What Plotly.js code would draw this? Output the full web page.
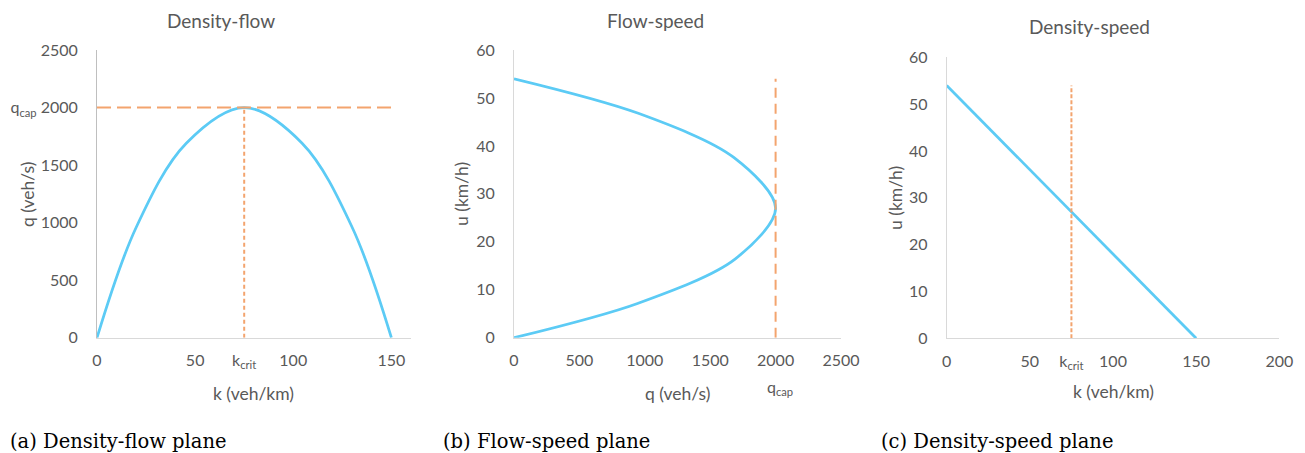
<!DOCTYPE html>
<html>
<head>
<meta charset="utf-8">
<script src="https://cdn.plot.ly/plotly-3.0.1.min.js"></script>
<style>html,body{margin:0;padding:0;background:#fff;}#chart{width:1305px;height:453px;}</style>
</head>
<body>
<div id="chart"></div>
<script>
// ---- data ----
const kCrit = 75;
const qCap = 2000;
const uFree = 54;
const kJam = 150;

// (a) density-flow
const dfK = [0, 20, 45.5, 75, 104.5, 130, 150];
const dfQ = [0, 960, 1690, 2000, 1690, 960, 0];

// (b) flow-speed
const fsQ = [0, 950, 1680, 2000, 1690, 950, 0];
const fsU = [54, 46.8, 37.6, 27, 16.4, 7.2, 0];

// (c) density-speed
const dsK = [0, kJam];
const dsU = [uFree, 0];

// tick labels
const dfXTickVals = [0, 50, 75, 100, 150];
const dfXTickText = ['0', '50', 'k<sub>crit</sub>', '100', '150'];
const dfYTickVals = [0, 500, 1000, 1500, 2000, 2500];
const dfYTickText = ['0', '500', '1000', '1500', 'q<sub>cap</sub> 2000', '2500'];
const fsXTickVals = [0, 500, 1000, 1500, 2000, 2500];
const fsYTickVals = [0, 10, 20, 30, 40, 50, 60];
const dsXTickVals = [0, 50, 75, 100, 150, 200];
const dsXTickText = ['0', '50', 'k<sub>crit</sub>', '100', '150', '200'];
const dsYTickVals = [0, 10, 20, 30, 40, 50, 60];

const titles = ['Density-flow', 'Flow-speed', 'Density-speed'];
const captions = ['(a) Density-flow plane', '(b) Flow-speed plane', '(c) Density-speed plane'];
const xTitles = ['k (veh/km)', 'q (veh/s)', 'k (veh/km)'];
const yTitles = ['q (veh/s)', 'u (km/h)', 'u (km/h)'];

// ---- styling ----
const W = 1305, H = 453;
const BLUE = '#5CCBF5';
const ORANGE = '#F3A46E';
const GREY = '#595959';
const FONT = 'Lato, "Open Sans", sans-serif';
const px = v => v / W;
const py = v => 1 - v / H;

const traces = [
  {x: dfK, y: dfQ, xaxis: 'x', yaxis: 'y', mode: 'lines', line: {color: BLUE, width: 2.75, shape: 'spline', smoothing: 1}},
  {x: [0, kJam], y: [qCap, qCap], xaxis: 'x', yaxis: 'y', mode: 'lines', line: {color: ORANGE, width: 2, dash: '14px,6px'}},
  {x: [kCrit, kCrit], y: [0, qCap], xaxis: 'x', yaxis: 'y', mode: 'lines', line: {color: ORANGE, width: 2, dash: '4px,3px'}},

  {x: fsQ, y: fsU, xaxis: 'x2', yaxis: 'y2', mode: 'lines', line: {color: BLUE, width: 2.75, shape: 'spline', smoothing: 0.9}},
  {x: [qCap, qCap], y: [0, uFree], xaxis: 'x2', yaxis: 'y2', mode: 'lines', line: {color: ORANGE, width: 2, dash: '10px,6px'}},

  {x: dsK, y: dsU, xaxis: 'x3', yaxis: 'y3', mode: 'lines', line: {color: BLUE, width: 2.75}},
  {x: [kCrit, kCrit], y: [0, uFree], xaxis: 'x3', yaxis: 'y3', mode: 'lines', line: {color: ORANGE, width: 2, dash: '4px,2px'}}
];

function axisBase(extra) {
  return Object.assign({
    showgrid: false, zeroline: false, showline: true, linecolor: '#D9D9D9', linewidth: 1,
    ticks: '', fixedrange: true,
    tickfont: {family: FONT, size: 16, color: GREY}
  }, extra);
}

const layout = {
  width: W, height: H,
  margin: {l: 0, r: 0, t: 0, b: 0},
  paper_bgcolor: '#fff', plot_bgcolor: '#fff',
  showlegend: false,
  font: {family: FONT, color: GREY},
  xaxis: axisBase({domain: [px(97), px(411)], range: [0, 160], tickmode: 'array', tickvals: dfXTickVals, ticktext: dfXTickText, anchor: 'y', ticklabelstandoff: 8}),
  yaxis: axisBase({domain: [py(337.7), py(50)], range: [0, 2500], tickmode: 'array', tickvals: dfYTickVals, ticktext: dfYTickText, anchor: 'x', linecolor: '#BFBFBF', ticklabelstandoff: 15}),
  xaxis2: axisBase({domain: [px(514), px(841)], range: [0, 2500], tickmode: 'array', tickvals: fsXTickVals, anchor: 'y2', ticklabelstandoff: 8}),
  yaxis2: axisBase({domain: [py(337.7), py(50)], range: [0, 60], tickmode: 'array', tickvals: fsYTickVals, anchor: 'x2', ticklabelstandoff: 15}),
  xaxis3: axisBase({domain: [px(946.7), px(1279.3)], range: [0, 200], tickmode: 'array', tickvals: dsXTickVals, ticktext: dsXTickText, anchor: 'y3', ticklabelstandoff: 8}),
  yaxis3: axisBase({domain: [py(338.3), py(57.3)], range: [0, 60], tickmode: 'array', tickvals: dsYTickVals, anchor: 'x3', ticklabelstandoff: 15}),
  annotations: []
};

const titlePos = [[221, 20], [655, 20], [1089, 27]];
const xTitlePos = [[254, 393], [677, 393], [1113, 391]];
const yTitlePos = [[28, 194], [462, 194], [895, 198]];
const capPos = [8, 441, 879];

for (let i = 0; i < 3; i++) {
  layout.annotations.push({text: titles[i], xref: 'paper', yref: 'paper', x: px(titlePos[i][0]), y: py(titlePos[i][1]),
    xanchor: 'center', yanchor: 'middle', showarrow: false, font: {family: FONT, size: 19, color: GREY}});
  layout.annotations.push({text: xTitles[i], xref: 'paper', yref: 'paper', x: px(xTitlePos[i][0]), y: py(xTitlePos[i][1]),
    xanchor: 'center', yanchor: 'middle', showarrow: false, font: {family: FONT, size: 17.5, color: GREY}});
  layout.annotations.push({text: yTitles[i], xref: 'paper', yref: 'paper', x: px(yTitlePos[i][0]), y: py(yTitlePos[i][1]),
    xanchor: 'center', yanchor: 'middle', textangle: -90, showarrow: false, font: {family: FONT, size: 17.5, color: GREY}});
  layout.annotations.push({text: captions[i], xref: 'paper', yref: 'paper', x: px(capPos[i]), y: py(441),
    xanchor: 'left', yanchor: 'middle', showarrow: false, font: {family: '"DejaVu Serif", serif', size: 19.5, color: '#000'}});
}
// q_cap label under the 2000 tick of the flow-speed plane
layout.annotations.push({text: 'q<sub>cap</sub>', xref: 'x2', yref: 'paper', x: qCap, y: py(387), xshift: 4,
  xanchor: 'center', yanchor: 'middle', showarrow: false, font: {family: FONT, size: 16, color: GREY}});

Plotly.newPlot('chart', traces, layout, {displayModeBar: false, staticPlot: true});
</script>
</body>
</html>
